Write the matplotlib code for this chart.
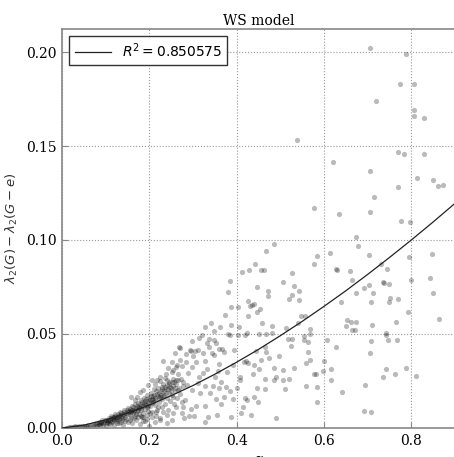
"""WS model: spectral drop vs alpha, scatter + fitted curve."""
import matplotlib

matplotlib.use("Agg")
import matplotlib.pyplot as plt
import numpy as np

plt.rcParams["font.family"] = ["DejaVu Serif"]
plt.rcParams["mathtext.fontset"] = "dejavusans"

# ---------------------------------------------------------------------------
# Data
# ---------------------------------------------------------------------------

# dense cluster near the origin
cluster_pts = np.array([
    (0.010, 0.0002), (0.015, 0.0003), (0.020, 0.0003), (0.025, 0.0005), (0.030, 0.0004),
    (0.030, 0.0008), (0.035, 0.0006), (0.040, 0.0005), (0.040, 0.0010), (0.045, 0.0008),
    (0.050, 0.0006), (0.050, 0.0013), (0.055, 0.0010), (0.060, 0.0007), (0.060, 0.0016),
    (0.065, 0.0012), (0.070, 0.0009), (0.070, 0.0021), (0.075, 0.0015), (0.078, 0.0028),
    (0.080, 0.0010), (0.082, 0.0020), (0.085, 0.0032), (0.088, 0.0014), (0.090, 0.0025),
    (0.092, 0.0040), (0.095, 0.0018), (0.097, 0.0031), (0.100, 0.0012), (0.100, 0.0045),
    (0.102, 0.0026), (0.105, 0.0036), (0.107, 0.0052), (0.110, 0.0020), (0.110, 0.0041),
    (0.113, 0.0062), (0.115, 0.0030), (0.117, 0.0048), (0.120, 0.0015), (0.120, 0.0057),
    (0.122, 0.0072), (0.125, 0.0035), (0.127, 0.0046), (0.130, 0.0025), (0.130, 0.0066),
    (0.132, 0.0083), (0.135, 0.0052), (0.137, 0.0040), (0.140, 0.0075), (0.140, 0.0018),
    (0.142, 0.0095), (0.145, 0.0061), (0.147, 0.0047), (0.150, 0.0085), (0.150, 0.0030),
    (0.152, 0.0106), (0.155, 0.0068), (0.157, 0.0092), (0.158, 0.0052), (0.160, 0.0115),
    (0.160, 0.0028), (0.162, 0.0078), (0.165, 0.0098), (0.167, 0.0062), (0.168, 0.0125),
    (0.170, 0.0042), (0.172, 0.0088), (0.173, 0.0108), (0.175, 0.0135), (0.176, 0.0072),
    (0.178, 0.0021), (0.180, 0.0095), (0.180, 0.0148), (0.182, 0.0118), (0.184, 0.0056),
    (0.185, 0.0082), (0.187, 0.0132), (0.188, 0.0162), (0.190, 0.0102), (0.190, 0.0037),
    (0.192, 0.0122), (0.194, 0.0175), (0.195, 0.0068), (0.197, 0.0143), (0.198, 0.0092),
    (0.200, 0.0158), (0.200, 0.0012), (0.202, 0.0115), (0.204, 0.0188), (0.205, 0.0135),
    (0.207, 0.0085), (0.208, 0.0168), (0.210, 0.0205), (0.212, 0.0122), (0.214, 0.0148),
    (0.215, 0.0062), (0.217, 0.0182), (0.218, 0.0098), (0.220, 0.0215), (0.222, 0.0138),
    (0.224, 0.0165), (0.225, 0.0042), (0.227, 0.0195), (0.228, 0.0112), (0.230, 0.0152),
    (0.232, 0.0232), (0.234, 0.0178), (0.235, 0.0125), (0.237, 0.0205), (0.240, 0.0162),
    (0.242, 0.0095), (0.244, 0.0245), (0.245, 0.0188), (0.247, 0.0142), (0.250, 0.0212),
    (0.252, 0.0175), (0.255, 0.0262), (0.257, 0.0128), (0.258, 0.0198), (0.260, 0.0235),
    (0.263, 0.0158), (0.265, 0.0285), (0.267, 0.0212), (0.270, 0.0182), (0.272, 0.0258),
    (0.275, 0.0138), (0.278, 0.0225), (0.263, 0.0335), (0.275, 0.0330), (0.252, 0.0298),
    (0.238, 0.0285), (0.225, 0.0248), (0.213, 0.0232), (0.292, 0.0415), (0.268, 0.0429),
])

# the darkest part of the cluster, hugging the fitted curve
core_pts = np.array([
    (0.085, 0.0022), (0.090, 0.0033), (0.095, 0.0026), (0.098, 0.0040), (0.103, 0.0032),
    (0.106, 0.0045), (0.108, 0.0028), (0.112, 0.0051), (0.114, 0.0038), (0.116, 0.0058),
    (0.118, 0.0042), (0.121, 0.0065), (0.123, 0.0050), (0.126, 0.0058), (0.128, 0.0072),
    (0.131, 0.0054), (0.133, 0.0068), (0.136, 0.0078), (0.138, 0.0060), (0.141, 0.0085),
    (0.143, 0.0069), (0.146, 0.0082), (0.148, 0.0096), (0.151, 0.0074), (0.153, 0.0090),
    (0.156, 0.0102), (0.159, 0.0085), (0.161, 0.0098), (0.163, 0.0110), (0.166, 0.0088),
    (0.169, 0.0105), (0.171, 0.0118), (0.174, 0.0096), (0.177, 0.0112), (0.179, 0.0128),
    (0.181, 0.0105), (0.183, 0.0138), (0.186, 0.0115), (0.189, 0.0142), (0.191, 0.0128),
    (0.193, 0.0152), (0.196, 0.0118), (0.199, 0.0135), (0.201, 0.0148), (0.203, 0.0168),
    (0.206, 0.0152), (0.209, 0.0138), (0.211, 0.0178), (0.213, 0.0162), (0.216, 0.0195),
    (0.219, 0.0172), (0.221, 0.0158), (0.223, 0.0188), (0.226, 0.0178), (0.229, 0.0205),
    (0.231, 0.0168), (0.233, 0.0198), (0.236, 0.0218), (0.239, 0.0185), (0.241, 0.0228),
    (0.243, 0.0205), (0.246, 0.0232), (0.249, 0.0195), (0.251, 0.0245), (0.254, 0.0222),
    (0.256, 0.0245), (0.259, 0.0215), (0.262, 0.0255), (0.125, 0.0028), (0.135, 0.0032),
    (0.145, 0.0038), (0.155, 0.0045), (0.165, 0.0052), (0.175, 0.0058), (0.185, 0.0035),
    (0.195, 0.0048), (0.205, 0.0058), (0.215, 0.0085), (0.170, 0.0075), (0.180, 0.0065),
])

# scattered points around the cluster edge (0.15 < alpha < 0.27)
edge_pts = np.array([
    (0.232, 0.0355), (0.271, 0.0427), (0.258, 0.0400), (0.251, 0.0350), (0.243, 0.0318),
    (0.255, 0.0309), (0.262, 0.0323), (0.224, 0.0273), (0.236, 0.0264), (0.217, 0.0255),
    (0.205, 0.0255), (0.198, 0.0229), (0.186, 0.0202), (0.179, 0.0193), (0.171, 0.0167),
    (0.167, 0.0149), (0.159, 0.0167), (0.209, 0.0149), (0.220, 0.0113), (0.232, 0.0087),
    (0.240, 0.0069), (0.251, 0.0043), (0.224, 0.0051), (0.213, 0.0034), (0.201, 0.0078),
    (0.194, 0.0113), (0.186, 0.0060), (0.240, 0.0025), (0.255, 0.0078), (0.262, 0.0113),
    (0.255, 0.0167), (0.266, 0.0202), (0.247, 0.0220), (0.228, 0.0220), (0.240, 0.0255),
    (0.266, 0.0255), (0.270, 0.0362),
])

# middle band (0.27 < alpha < 0.55)
mid_pts = np.array([
    (0.447, 0.0617), (0.426, 0.0598), (0.373, 0.0603), (0.458, 0.0559), (0.481, 0.0543),
    (0.513, 0.0532), (0.327, 0.0539), (0.341, 0.0557), (0.362, 0.0539), (0.388, 0.0546),
    (0.406, 0.0539), (0.347, 0.0514), (0.380, 0.0500), (0.384, 0.0495), (0.404, 0.0496),
    (0.420, 0.0496), (0.424, 0.0504), (0.452, 0.0498), (0.467, 0.0502), (0.481, 0.0504),
    (0.517, 0.0475), (0.527, 0.0475), (0.320, 0.0493), (0.314, 0.0479), (0.336, 0.0475),
    (0.348, 0.0468), (0.352, 0.0450), (0.332, 0.0450), (0.336, 0.0429), (0.359, 0.0418),
    (0.366, 0.0420), (0.466, 0.0431), (0.468, 0.0406), (0.298, 0.0465), (0.295, 0.0410),
    (0.304, 0.0411), (0.311, 0.0415), (0.284, 0.0392), (0.301, 0.0383), (0.323, 0.0397),
    (0.343, 0.0397), (0.347, 0.0387), (0.372, 0.0403), (0.395, 0.0415), (0.445, 0.0408),
    (0.416, 0.0351), (0.421, 0.0355), (0.427, 0.0344), (0.455, 0.0362), (0.475, 0.0374),
    (0.496, 0.0385), (0.284, 0.0351), (0.306, 0.0353), (0.327, 0.0358), (0.360, 0.0342),
    (0.391, 0.0333), (0.440, 0.0333), (0.452, 0.0314), (0.486, 0.0317), (0.506, 0.0309),
    (0.519, 0.0262), (0.505, 0.0257), (0.486, 0.0255), (0.465, 0.0261), (0.437, 0.0287),
    (0.407, 0.0273), (0.408, 0.0257), (0.377, 0.0300), (0.358, 0.0301), (0.350, 0.0273),
    (0.365, 0.0243), (0.333, 0.0316), (0.323, 0.0291), (0.313, 0.0273), (0.298, 0.0324),
    (0.288, 0.0294), (0.276, 0.0246), (0.286, 0.0230), (0.312, 0.0241), (0.327, 0.0223),
    (0.345, 0.0223), (0.360, 0.0214), (0.376, 0.0220), (0.384, 0.0199), (0.401, 0.0213),
    (0.446, 0.0211), (0.465, 0.0209), (0.298, 0.0202), (0.317, 0.0186), (0.340, 0.0186),
    (0.352, 0.0156), (0.370, 0.0167), (0.391, 0.0152), (0.419, 0.0158), (0.423, 0.0151),
    (0.439, 0.0165), (0.449, 0.0140), (0.414, 0.0110), (0.364, 0.0128), (0.328, 0.0119),
    (0.307, 0.0117), (0.282, 0.0149), (0.277, 0.0113), (0.295, 0.0103), (0.335, 0.0060),
    (0.355, 0.0067), (0.386, 0.0060), (0.410, 0.0078), (0.433, 0.0069), (0.279, 0.0051),
    (0.290, 0.0064), (0.302, 0.0064), (0.327, 0.0032), (0.275, 0.0078), (0.490, 0.0051),
    (0.510, 0.0206), (0.489, 0.0270),
])

# upper-middle points (alpha 0.38 - 0.55, delta > 0.06)
upper_mid_pts = np.array([
    (0.485, 0.0977), (0.467, 0.0941), (0.442, 0.0871), (0.455, 0.0842), (0.462, 0.0839),
    (0.412, 0.0830), (0.428, 0.0839), (0.385, 0.0784), (0.507, 0.0778), (0.447, 0.0750),
    (0.472, 0.0729), (0.472, 0.0700), (0.381, 0.0722), (0.519, 0.0684), (0.425, 0.0676),
    (0.387, 0.0645), (0.402, 0.0642), (0.430, 0.0650), (0.435, 0.0654), (0.440, 0.0660),
    (0.453, 0.0635),
])

# sparse tail (alpha > 0.52)
tail_pts = np.array([
    (0.705, 0.2020), (0.788, 0.1990), (0.773, 0.1830), (0.805, 0.1830), (0.719, 0.1740),
    (0.805, 0.1690), (0.807, 0.1660), (0.828, 0.1650), (0.539, 0.1530), (0.770, 0.1470),
    (0.784, 0.1460), (0.828, 0.1460), (0.620, 0.1415), (0.706, 0.1365), (0.814, 0.1330),
    (0.849, 0.1320), (0.860, 0.1285), (0.873, 0.1295), (0.770, 0.1280), (0.714, 0.1230),
    (0.577, 0.1169), (0.635, 0.1140), (0.705, 0.1147), (0.776, 0.1100), (0.798, 0.1097),
    (0.674, 0.1014), (0.678, 0.0970), (0.614, 0.0930), (0.702, 0.0920), (0.847, 0.0924),
    (0.584, 0.0913), (0.576, 0.0872), (0.795, 0.0908), (0.627, 0.0844), (0.630, 0.0839),
    (0.659, 0.0837), (0.731, 0.0872), (0.744, 0.0844), (0.526, 0.0823), (0.664, 0.0786),
    (0.735, 0.0778), (0.738, 0.0770), (0.749, 0.0768), (0.703, 0.0762), (0.691, 0.0746),
    (0.842, 0.0800), (0.800, 0.0787), (0.531, 0.0757), (0.542, 0.0729), (0.526, 0.0707),
    (0.673, 0.0718), (0.712, 0.0716), (0.850, 0.0716), (0.543, 0.0679), (0.750, 0.0693),
    (0.770, 0.0688), (0.640, 0.0669), (0.707, 0.0669), (0.748, 0.0669), (0.793, 0.0617),
    (0.863, 0.0578), (0.766, 0.0565), (0.548, 0.0598), (0.557, 0.0594), (0.541, 0.0557),
    (0.568, 0.0528), (0.567, 0.0502), (0.653, 0.0574), (0.661, 0.0562), (0.673, 0.0562),
    (0.650, 0.0544), (0.665, 0.0521), (0.671, 0.0523), (0.709, 0.0548), (0.743, 0.0504),
    (0.741, 0.0495), (0.555, 0.0489), (0.555, 0.0468), (0.564, 0.0456), (0.607, 0.0470),
    (0.708, 0.0463), (0.746, 0.0470), (0.767, 0.0466), (0.525, 0.0438), (0.628, 0.0429),
    (0.563, 0.0403), (0.706, 0.0399), (0.568, 0.0360), (0.558, 0.0346), (0.600, 0.0356),
    (0.531, 0.0321), (0.616, 0.0312), (0.597, 0.0301), (0.577, 0.0289), (0.581, 0.0289),
    (0.742, 0.0316), (0.787, 0.0321), (0.762, 0.0289), (0.735, 0.0270), (0.810, 0.0278),
    (0.617, 0.0254), (0.559, 0.0223), (0.584, 0.0216), (0.693, 0.0227), (0.641, 0.0190),
    (0.584, 0.0138), (0.691, 0.0092), (0.708, 0.0085),
])

# fitted curve
fit_alpha = [0.0, 0.05, 0.10, 0.15, 0.20, 0.25, 0.30, 0.35, 0.40, 0.45,
             0.50, 0.55, 0.60, 0.65, 0.70, 0.75, 0.80, 0.85, 0.90]
fit_delta = [0.0, 0.0015, 0.0043, 0.0079, 0.0122, 0.0172, 0.0226, 0.0286, 0.0350, 0.0418,
             0.0491, 0.0567, 0.0647, 0.0730, 0.0817, 0.0907, 0.1000, 0.1096, 0.1195]
r_squared = 0.850575

# ---------------------------------------------------------------------------
# Plot
# ---------------------------------------------------------------------------

fig = plt.figure(figsize=(4.54, 4.57), dpi=100)
ax = fig.add_axes([0.1366, 0.0635, 0.8656, 0.8737])

pts = np.vstack([cluster_pts, core_pts, edge_pts, mid_pts, upper_mid_pts, tail_pts])
ax.scatter(pts[:, 0], pts[:, 1], s=14, color="k", alpha=0.27, linewidths=0, zorder=2)
ax.plot(fit_alpha, fit_delta, color="#222222", linewidth=0.9,
        label=rf"$R^2 = {r_squared}$", zorder=3)

ax.set_xlim(0, 0.9)
ax.set_ylim(0, 0.2124)
ax.set_xticks([0.0, 0.2, 0.4, 0.6, 0.8])
ax.set_xticklabels(["0.0", "0.2", "0.4", "0.6", "0.8"])
ax.set_yticks([0.0, 0.05, 0.10, 0.15, 0.20])
ax.set_yticklabels(["0.00", "0.05", "0.10", "0.15", "0.20"])
ax.tick_params(direction="in", length=4, color="#888888", labelsize=10, pad=4)

ax.grid(True, linestyle=":", color="#999999", linewidth=0.8)
for spine in ax.spines.values():
    spine.set_color("#888888")
    spine.set_linewidth(1.2)

ax.set_title("WS model", fontsize=10, pad=3)
ax.set_xlabel(r"$\alpha$", fontsize=10)
ax.set_ylabel(r"$\lambda_2(G) - \lambda_2(G-e)$", fontsize=9.5, color="#333333")

leg = ax.legend(loc="upper left", fontsize=10, fancybox=False, framealpha=1,
                handlelength=2.6, borderpad=0.4)
leg.get_frame().set_edgecolor("#333333")

fig.savefig("out.png", dpi=100)
